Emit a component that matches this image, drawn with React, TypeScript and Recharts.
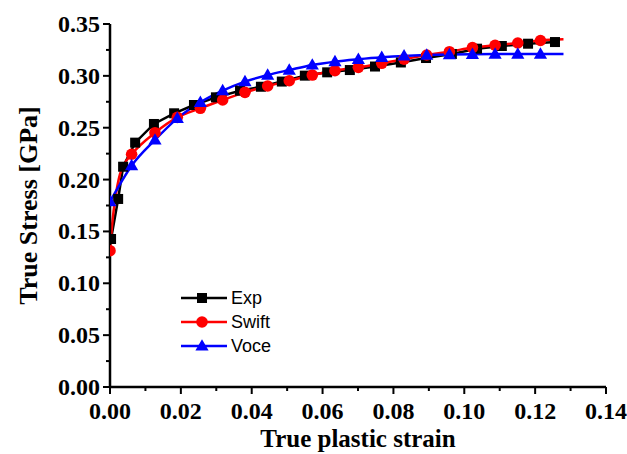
import React from 'react';
import { LineChart, Line, XAxis, YAxis } from 'recharts';

// Experimental data (black squares)
const expStrain = [0.0003, 0.0023, 0.0037, 0.0071, 0.0124, 0.0181, 0.0237, 0.0299, 0.0367, 0.0426, 0.0485, 0.0550, 0.0613, 0.0677, 0.0748, 0.0821, 0.0892, 0.0965, 0.1036, 0.1106, 0.1180, 0.1256];
const expStress = [0.1427, 0.1813, 0.2124, 0.2356, 0.2536, 0.2639, 0.2719, 0.2793, 0.2857, 0.2895, 0.2945, 0.3002, 0.3034, 0.3056, 0.3090, 0.3129, 0.3172, 0.3211, 0.3262, 0.3288, 0.3310, 0.3326];

// Model fits evaluated at marker strains
const fitStrain = [0, 0.0061, 0.0127, 0.0190, 0.0255, 0.0318, 0.0381, 0.0445, 0.0506, 0.0571, 0.0635, 0.0701, 0.0767, 0.0830, 0.0894, 0.0958, 0.1023, 0.1087, 0.1151, 0.1215];
const swiftStress = [0.1314, 0.2244, 0.2452, 0.2600, 0.2687, 0.2767, 0.2841, 0.2902, 0.2953, 0.3008, 0.3050, 0.3082, 0.3121, 0.3160, 0.3201, 0.3233, 0.3273, 0.3295, 0.3317, 0.3341];
const voceStress = [0.1787, 0.2134, 0.2382, 0.2590, 0.2745, 0.2857, 0.2944, 0.3008, 0.3056, 0.3105, 0.3137, 0.3160, 0.3179, 0.3192, 0.3200, 0.3205, 0.3208, 0.3210, 0.3210, 0.3210];

// Curve points without markers
const swiftLineStrain = [0.0007, 0.0015, 0.0028, 0.0042, 0.128];
const swiftLineStress = [0.160, 0.182, 0.205, 0.216, 0.3352];
const voceLineStrain = [0.128];
const voceLineStress = [0.3210];

const xTicks = [0, 0.01, 0.02, 0.03, 0.04, 0.05, 0.06, 0.07, 0.08, 0.09, 0.1, 0.11, 0.12, 0.13, 0.14];
const yTicks = [0, 0.025, 0.05, 0.075, 0.1, 0.125, 0.15, 0.175, 0.2, 0.225, 0.25, 0.275, 0.3, 0.325, 0.35];

type Pt = { x: number; y: number; marker: boolean };

function buildSeries(xs: number[], ys: number[], lx: number[] = [], ly: number[] = []): Pt[] {
  const pts: Pt[] = xs.map((x, i) => ({ x, y: ys[i], marker: true }));
  lx.forEach((x, i) => pts.push({ x, y: ly[i], marker: false }));
  pts.sort((a, b) => a.x - b.x);
  return pts;
}

const expData = buildSeries(expStrain, expStress);
const swiftData = buildSeries(fitStrain, swiftStress, swiftLineStrain, swiftLineStress);
const voceData = buildSeries(fitStrain, voceStress, voceLineStrain, voceLineStress);

const SERIF = '"Liberation Serif", "Times New Roman", serif';
const SANS = '"Liberation Sans", Arial, sans-serif';

const squareDot = (p: any) => {
  if (!p.payload?.marker || p.cx == null) return <g key={`s${p.index}`} />;
  return <rect key={`s${p.index}`} x={p.cx - 5} y={p.cy - 5} width={10} height={10} fill="#000" />;
};
const circleDot = (p: any) => {
  if (!p.payload?.marker || p.cx == null) return <g key={`c${p.index}`} />;
  return <circle key={`c${p.index}`} cx={p.cx} cy={p.cy} r={5.8} fill="#ff0000" />;
};
const triPoints = (cx: number, cy: number, s: number) =>
  `${cx},${cy - s * 0.62} ${cx - s * 0.6},${cy + s * 0.42} ${cx + s * 0.6},${cy + s * 0.42}`;
const triDot = (p: any) => {
  if (!p.payload?.marker || p.cx == null) return <g key={`t${p.index}`} />;
  return <polygon key={`t${p.index}`} points={triPoints(p.cx, p.cy, 11)} fill="#0000ff" />;
};

const XTick = (props: any) => {
  const { x, y, payload } = props;
  const v = payload.value as number;
  const major = Math.round(v * 100) % 2 === 0;
  return (
    <g>
      <line x1={x} x2={x} y1={y} y2={y + (major ? 7 : 4)} stroke="#000" strokeWidth={2} />
      {major && (
        <text x={x} y={y + 32} textAnchor="middle" fontFamily={SERIF} fontWeight="bold" fontSize={24} fill="#000">
          {v.toFixed(2)}
        </text>
      )}
    </g>
  );
};

const YTick = (props: any) => {
  const { x, y, payload } = props;
  const v = payload.value as number;
  const major = Math.round(v * 1000) % 50 === 0;
  return (
    <g>
      <line x1={x} x2={x - (major ? 7 : 4)} y1={y} y2={y} stroke="#000" strokeWidth={2} />
      {major && (
        <text x={x - 10} y={y + 8} textAnchor="end" fontFamily={SERIF} fontWeight="bold" fontSize={24} fill="#000">
          {v.toFixed(2)}
        </text>
      )}
    </g>
  );
};

const XTitle = (props: any) => {
  const vb = props.viewBox || { x: 110, y: 387, width: 496, height: 67 };
  return (
    <text x={vb.x + vb.width / 2} y={vb.y + 60} textAnchor="middle" fontFamily={SERIF} fontWeight="bold" fontSize={25} fill="#000">
      True plastic strain
    </text>
  );
};

const YTitle = (props: any) => {
  const vb = props.viewBox || { x: 0, y: 24, width: 110, height: 363 };
  const cx = 37;
  const cy = vb.y + vb.height / 2;
  return (
    <text x={cx} y={cy} transform={`rotate(-90 ${cx} ${cy})`} textAnchor="middle" fontFamily={SERIF} fontWeight="bold" fontSize={26} fill="#000">
      True Stress [GPa]
    </text>
  );
};

const legendItems = [
  { name: 'Exp', color: '#000000', shape: 'square' },
  { name: 'Swift', color: '#ff0000', shape: 'circle' },
  { name: 'Voce', color: '#0000ff', shape: 'triangle' },
];

const LegendIcon = ({ color, shape }: { color: string; shape: string }) => (
  <svg width={47} height={20} style={{ display: 'block' }}>
    <line x1={0} x2={46} y1={10} y2={10} stroke={color} strokeWidth={2.5} />
    {shape === 'square' && <rect x={16} y={5} width={10} height={10} fill={color} />}
    {shape === 'circle' && <circle cx={21} cy={10} r={5.8} fill={color} />}
    {shape === 'triangle' && <polygon points={triPoints(21, 10, 11)} fill={color} />}
  </svg>
);

export default function App() {
  return (
    <div style={{ position: 'absolute', left: 0, top: 0, width: 627, height: 454, background: '#fff' }}>
      <LineChart width={627} height={454} margin={{ top: 24, right: 21, bottom: 0, left: 0 }}>
        <XAxis
          type="number"
          dataKey="x"
          domain={[0, 0.14]}
          ticks={xTicks}
          interval={0}
          height={67}
          tickSize={0}
          tickMargin={0}
          tickLine={false}
          axisLine={{ stroke: '#000', strokeWidth: 2.5 }}
          tick={<XTick />}
          allowDataOverflow
          label={<XTitle />}
        />
        <YAxis
          type="number"
          dataKey="y"
          domain={[0, 0.35]}
          ticks={yTicks}
          interval={0}
          width={110}
          tickSize={0}
          tickMargin={0}
          tickLine={false}
          axisLine={{ stroke: '#000', strokeWidth: 2.5 }}
          tick={<YTick />}
          allowDataOverflow
          label={<YTitle />}
        />
        <Line data={expData} dataKey="y" type="linear" stroke="#000" strokeWidth={2.5} dot={squareDot} activeDot={false} isAnimationActive={false} />
        <Line data={swiftData} dataKey="y" type="monotone" stroke="#ff0000" strokeWidth={2.5} dot={circleDot} activeDot={false} isAnimationActive={false} />
        <Line data={voceData} dataKey="y" type="monotone" stroke="#0000ff" strokeWidth={2.5} dot={triDot} activeDot={false} isAnimationActive={false} />
      </LineChart>
      {legendItems.map((it, i) => (
        <div
          key={it.name}
          style={{ position: 'absolute', left: 181, top: 288 + i * 24, height: 20, display: 'flex', alignItems: 'center' }}
        >
          <LegendIcon color={it.color} shape={it.shape} />
          <span style={{ marginLeft: 3, fontFamily: SANS, fontSize: 18, lineHeight: '20px', color: '#000' }}>{it.name}</span>
        </div>
      ))}
    </div>
  );
}
